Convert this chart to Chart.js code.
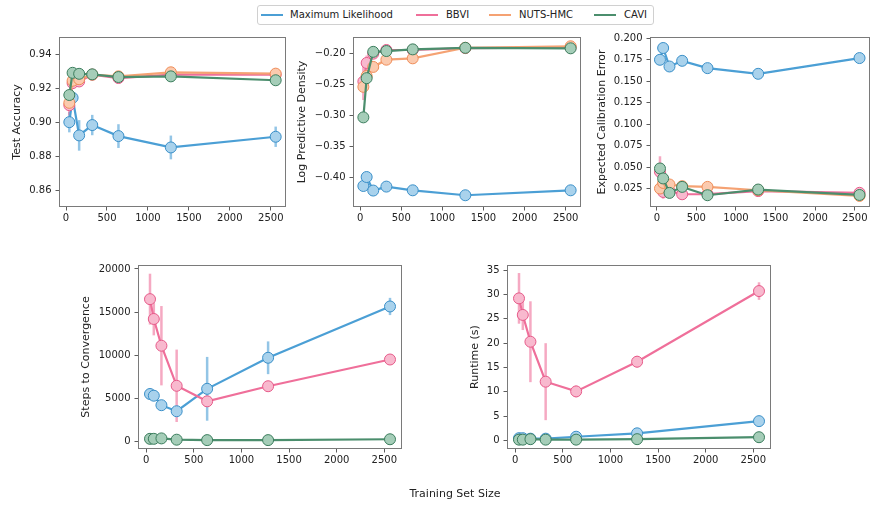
<!DOCTYPE html>
<html><head><meta charset="utf-8">
<script src="https://cdn.jsdelivr.net/npm/chart.js@4.4.1/dist/chart.umd.min.js"></script>
<style>
html,body{margin:0;padding:0;background:#fff;}
body{width:876px;height:506px;position:relative;overflow:hidden;font-family:"DejaVu Sans",sans-serif;color:#222;}
canvas.c{position:absolute;left:0;top:0;}
#legend{position:absolute;left:257px;top:5px;width:395px;height:18px;border:1px solid #d0d0d0;border-radius:3px;background:#fff;}
.li{position:absolute;top:0;height:18px;}
.sw{position:absolute;top:8px;width:22px;height:2px;}
.lt{position:absolute;top:1px;font-size:10px;line-height:16px;white-space:nowrap;}
#xlabel{position:absolute;left:355px;width:200px;top:487px;text-align:center;font-size:11px;}
</style></head>
<body>
<canvas class="c" id="p1" width="876" height="506"></canvas>
<canvas class="c" id="p2" width="876" height="506"></canvas>
<canvas class="c" id="p3" width="876" height="506"></canvas>
<canvas class="c" id="p4" width="876" height="506"></canvas>
<canvas class="c" id="p5" width="876" height="506"></canvas>
<div id="legend"></div>
<div id="xlabel">Training Set Size</div>
<script>
// ---------- data ----------
const sizes = [40, 80, 160, 320, 640, 1280, 2560];
const seriesNames = ['Maximum Likelihood', 'BBVI', 'NUTS-HMC', 'CAVI'];
const xTicks = [0, 500, 1000, 1500, 2000, 2500];
const xTickLabels = ['0', '500', '1000', '1500', '2000', '2500'];

// Test Accuracy
const accML = [0.900, 0.9144, 0.8922, 0.8983, 0.8918, 0.8851, 0.8914];
const accMLErr = [0.006, 0.002, 0.009, 0.006, 0.007, 0.007, 0.006];
const accBBVI = [0.910, 0.923, 0.924, 0.928, 0.926, 0.928, 0.928];
const accBBVIErr = [0.006, 0.002, 0.002, 0.001, 0.001, 0.001, 0.001];
const accNUTS = [0.9114, 0.9244, 0.9253, 0.928, 0.927, 0.9294, 0.9286];
const accNUTSErr = [0.003, 0.002, 0.002, 0.001, 0.001, 0.001, 0.001];
const accCAVI = [0.916, 0.9291, 0.9285, 0.9282, 0.9266, 0.927, 0.9247];
const accCAVIErr = [0.001, 0.001, 0.001, 0.001, 0.001, 0.001, 0.001];
const accTicks = [0.86, 0.88, 0.90, 0.92, 0.94];
const accTickLabels = ['0.86', '0.88', '0.90', '0.92', '0.94'];

// Log Predictive Density
const lpdML = [-0.414, -0.3995, -0.4214, -0.415, -0.421, -0.429, -0.421];
const lpdMLErr = [0.002, 0.002, 0.002, 0.002, 0.001, 0.001, 0.001];
const lpdBBVI = [-0.245, -0.215, -0.200, -0.194, -0.194, -0.191, -0.190];
const lpdBBVIErr = [0.03, 0.012, 0.004, 0.002, 0.001, 0.001, 0.001];
const lpdNUTS = [-0.2536, -0.236, -0.2214, -0.2097, -0.2075, -0.1904, -0.188];
const lpdNUTSErr = [0.004, 0.003, 0.002, 0.001, 0.001, 0.001, 0.001];
const lpdCAVI = [-0.303, -0.2396, -0.197, -0.1957, -0.193, -0.1905, -0.1913];
const lpdCAVIErr = [0.002, 0.002, 0.001, 0.001, 0.001, 0.001, 0.001];
const lpdTicks = [-0.40, -0.35, -0.30, -0.25, -0.20];
const lpdTickLabels = ['\u22120.40', '\u22120.35', '\u22120.30', '\u22120.25', '\u22120.20'];

// Expected Calibration Error
const eceML = [0.1747, 0.1884, 0.1669, 0.1735, 0.165, 0.1584, 0.1767];
const eceMLErr = [0.002, 0.002, 0.005, 0.002, 0.002, 0.005, 0.002];
const eceBBVI = [0.0444, 0.021, 0.022, 0.0183, 0.0185, 0.022, 0.020];
const eceBBVIErr = [0.018, 0.008, 0.002, 0.001, 0.001, 0.001, 0.001];
const eceNUTS = [0.025, 0.0315, 0.0297, 0.0277, 0.0269, 0.023, 0.0164];
const eceNUTSErr = [0.002, 0.002, 0.001, 0.001, 0.001, 0.001, 0.001];
const eceCAVI = [0.0483, 0.0367, 0.0199, 0.0269, 0.0172, 0.0238, 0.0175];
const eceCAVIErr = [0.002, 0.002, 0.001, 0.001, 0.001, 0.001, 0.001];
const eceTicks = [0.025, 0.050, 0.075, 0.100, 0.125, 0.150, 0.175, 0.200];
const eceTickLabels = ['0.025', '0.050', '0.075', '0.100', '0.125', '0.150', '0.175', '0.200'];

// Steps to Convergence
const stepsML = [5500, 5300, 4200, 3500, 6100, 9700, 15650];
const stepsMLErr = [200, 200, 200, 300, 3700, 1900, 1000];
const stepsBBVI = [16500, 14200, 11100, 6450, 4650, 6400, 9500];
const stepsBBVIErr = [2950, 1900, 4600, 4200, 300, 200, 200];
const stepsCAVI = [300, 300, 350, 200, 150, 150, 250];
const stepsCAVIErr = [50, 50, 50, 30, 30, 30, 30];
const stepsTicks = [0, 5000, 10000, 15000, 20000];
const stepsTickLabels = ['0', '5000', '10000', '15000', '20000'];

// Runtime (s)
const rtML = [0.5, 0.5, 0.4, 0.4, 0.8, 1.5, 4.0];
const rtMLErr = [0.05, 0.05, 0.05, 0.05, 0.1, 0.1, 0.2];
const rtBBVI = [29.2, 25.8, 20.3, 12.1, 10.1, 16.2, 30.7];
const rtBBVIErr = [5.2, 3.1, 8.3, 7.9, 1.2, 1.2, 1.8];
const rtCAVI = [0.2, 0.2, 0.3, 0.2, 0.2, 0.3, 0.7];
const rtCAVIErr = [0.02, 0.02, 0.02, 0.02, 0.02, 0.02, 0.05];
const rtTicks = [0, 5, 10, 15, 20, 25, 30, 35];
const rtTickLabels = ['0', '5', '10', '15', '20', '25', '30', '35'];

// ---------- styling ----------
const COLORS = [
  {line: '#4b9fd5', fill: '#a9d2ec', edge: '#3a8fc8'},
  {line: '#ef6f9a', fill: '#f8b9ce', edge: '#e65a89'},
  {line: '#f5a273', fill: '#fbcaae', edge: '#ef8c57'},
  {line: '#4b8e6d', fill: '#a5cdb8', edge: '#3b7d5d'}
];
const TICK_FONT = {family: 'DejaVu Sans', size: 10};
const TITLE_FONT = {family: 'DejaVu Sans', size: 11};

// legend
(function () {
  const lg = document.getElementById('legend');
  const swX = [3, 158, 231, 336];
  const txX = [32, 188, 261, 366];
  seriesNames.forEach((n, i) => {
    const s = document.createElement('div');
    s.className = 'sw'; s.style.left = swX[i] + 'px'; s.style.background = COLORS[i].line;
    lg.appendChild(s);
    const t = document.createElement('div');
    t.className = 'lt'; t.style.left = txX[i] + 'px'; t.textContent = n;
    lg.appendChild(t);
  });
})();

const errorBarPlugin = {
  id: 'errbars',
  beforeDatasetsDraw(chart) {
    const ctx = chart.ctx;
    const xs = chart.scales.x, ys = chart.scales.y;
    ctx.save();
    ctx.beginPath();
    ctx.rect(chart.chartArea.left, chart.chartArea.top, chart.chartArea.width, chart.chartArea.height);
    ctx.clip();
    chart.data.datasets.forEach(ds => {
      if (!ds.errors) return;
      ctx.strokeStyle = ds.errColor;
      ctx.lineWidth = 2.5;
      ds.data.forEach((p, i) => {
        const e = ds.errors[i];
        const px = xs.getPixelForValue(p.x);
        ctx.beginPath();
        ctx.moveTo(px, ys.getPixelForValue(p.y - e));
        ctx.lineTo(px, ys.getPixelForValue(p.y + e));
        ctx.stroke();
      });
    });
    ctx.restore();
  }
};
const framePlugin = {
  id: 'frame',
  afterDatasetsDraw(chart) {
    const a = chart.chartArea, ctx = chart.ctx;
    ctx.save();
    ctx.strokeStyle = '#7a7a7a';
    ctx.lineWidth = 1;
    ctx.strokeRect(Math.round(a.left) + 0.5, Math.round(a.top) + 0.5, Math.round(a.width) - 1, Math.round(a.height) - 1);
    ctx.restore();
  }
};

function hexA(hex, a) {
  const r = parseInt(hex.slice(1, 3), 16), g = parseInt(hex.slice(3, 5), 16), b = parseInt(hex.slice(5, 7), 16);
  return `rgba(${r},${g},${b},${a})`;
}

function makePanel(id, p) {
  const datasets = p.series.map(s => {
    const c = COLORS[s.idx];
    return {
      label: seriesNames[s.idx],
      data: sizes.map((x, i) => ({x: x, y: s.values[i]})),
      errors: s.errors,
      errColor: hexA(c.line, 0.6),
      borderColor: c.line,
      backgroundColor: c.fill,
      pointBackgroundColor: c.fill,
      pointBorderColor: c.edge,
      pointRadius: 5.5,
      pointBorderWidth: 1,
      borderWidth: 2.2,
      tension: 0,
      order: 4 - s.idx
    };
  });
  new Chart(document.getElementById(id), {
    type: 'line',
    data: {datasets},
    options: {
      responsive: false, animation: false, devicePixelRatio: 1,
      events: [],
      layout: {padding: p.pad},
      plugins: {legend: {display: false}, tooltip: {enabled: false}},
      scales: {
        x: {
          type: 'linear', min: -86, max: 2686,
          afterBuildTicks: a => { a.ticks = xTicks.map(v => ({value: v})); },
          afterFit: a => { a.height = 22; },
          border: {display: false},
          grid: {drawOnChartArea: false, drawTicks: true, tickLength: 3.5, color: '#333', lineWidth: 0.8},
          ticks: {font: TICK_FONT, color: '#222', padding: 2, maxRotation: 0, autoSkip: false,
                  callback: (v, i) => xTickLabels[i]}
        },
        y: {
          type: 'linear', min: p.ymin, max: p.ymax,
          afterBuildTicks: a => { a.ticks = p.yTicks.map(v => ({value: v})); },
          afterFit: a => { a.width = p.yw; },
          border: {display: false},
          grid: {drawOnChartArea: false, drawTicks: true, tickLength: 3.5, color: '#333', lineWidth: 0.8},
          ticks: {font: TICK_FONT, color: '#222', padding: 4, autoSkip: false,
                  callback: (v, i) => p.yLabels[i]},
          title: {display: true, text: p.title, font: TITLE_FONT, color: '#222', padding: {top: 0, bottom: 0}}
        }
      }
    },
    plugins: [errorBarPlugin, framePlugin]
  });
}

// chart areas: P1 59-286 x 37-207 ; P2 353-581 ; P3 650-875 ; P4 138-402 x 265-449 ; P5 507-771
makePanel('p1', {
  title: 'Test Accuracy', ymin: 0.85, ymax: 0.9502, yTicks: accTicks, yLabels: accTickLabels,
  pad: {left: 11, right: 876 - 286, top: 37, bottom: 506 - 207 - 22}, yw: 48,
  series: [
    {idx: 0, values: accML, errors: accMLErr},
    {idx: 1, values: accBBVI, errors: accBBVIErr},
    {idx: 2, values: accNUTS, errors: accNUTSErr},
    {idx: 3, values: accCAVI, errors: accCAVIErr}
  ]
});
makePanel('p2', {
  title: 'Log Predictive Density', ymin: -0.448, ymax: -0.173, yTicks: lpdTicks, yLabels: lpdTickLabels,
  pad: {left: 296, right: 876 - 581, top: 37, bottom: 506 - 207 - 22}, yw: 57,
  series: [
    {idx: 0, values: lpdML, errors: lpdMLErr},
    {idx: 1, values: lpdBBVI, errors: lpdBBVIErr},
    {idx: 2, values: lpdNUTS, errors: lpdNUTSErr},
    {idx: 3, values: lpdCAVI, errors: lpdCAVIErr}
  ]
});
makePanel('p3', {
  title: 'Expected Calibration Error', ymin: 0.0035, ymax: 0.2012, yTicks: eceTicks, yLabels: eceTickLabels,
  pad: {left: 596, right: 1, top: 37, bottom: 506 - 207 - 22}, yw: 54,
  series: [
    {idx: 0, values: eceML, errors: eceMLErr},
    {idx: 1, values: eceBBVI, errors: eceBBVIErr},
    {idx: 2, values: eceNUTS, errors: eceNUTSErr},
    {idx: 3, values: eceCAVI, errors: eceCAVIErr}
  ]
});
makePanel('p4', {
  title: 'Steps to Convergence', ymin: -880, ymax: 20460, yTicks: stepsTicks, yLabels: stepsTickLabels,
  pad: {left: 80, right: 876 - 402, top: 265, bottom: 506 - 449 - 22}, yw: 58,
  series: [
    {idx: 0, values: stepsML, errors: stepsMLErr},
    {idx: 1, values: stepsBBVI, errors: stepsBBVIErr},
    {idx: 3, values: stepsCAVI, errors: stepsCAVIErr}
  ]
});
makePanel('p5', {
  title: 'Runtime (s)', ymin: -1.72, ymax: 36.05, yTicks: rtTicks, yLabels: rtTickLabels,
  pad: {left: 469, right: 876 - 771, top: 265, bottom: 506 - 449 - 22}, yw: 38,
  series: [
    {idx: 0, values: rtML, errors: rtMLErr},
    {idx: 1, values: rtBBVI, errors: rtBBVIErr},
    {idx: 3, values: rtCAVI, errors: rtCAVIErr}
  ]
});
</script>
</body></html>
